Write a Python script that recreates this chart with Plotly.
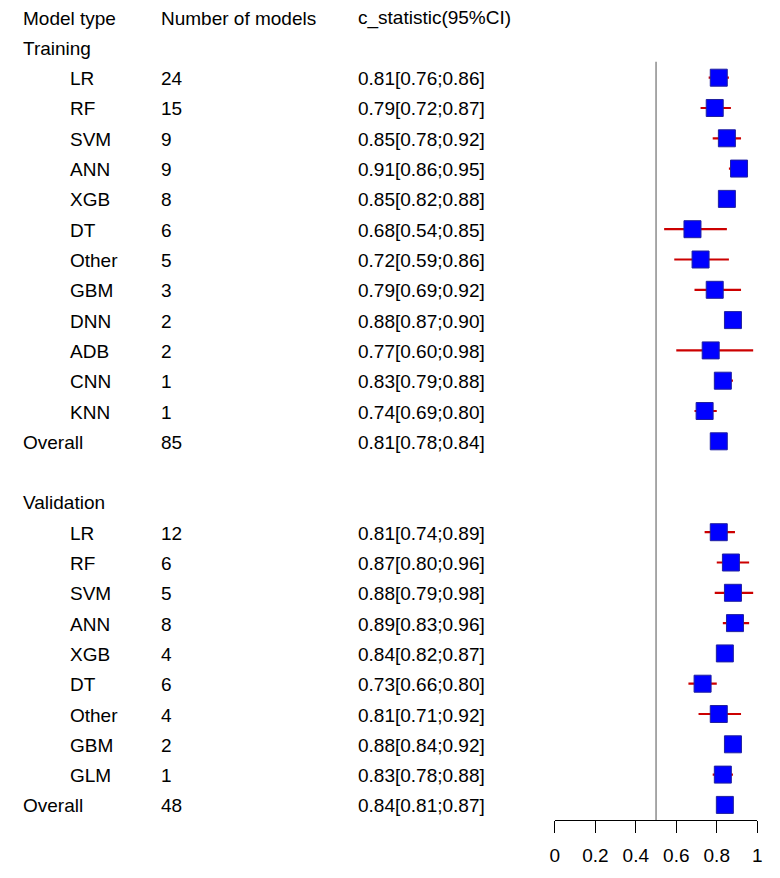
import plotly.graph_objects as go

# ---- data ----
train_models = ['LR', 'RF', 'SVM', 'ANN', 'XGB', 'DT', 'Other', 'GBM',
                'DNN', 'ADB', 'CNN', 'KNN']
train_n      = [24, 15, 9, 9, 8, 6, 5, 3, 2, 2, 1, 1]
train_c      = [0.81, 0.79, 0.85, 0.91, 0.85, 0.68, 0.72, 0.79, 0.88, 0.77, 0.83, 0.74]
train_lo     = [0.76, 0.72, 0.78, 0.86, 0.82, 0.54, 0.59, 0.69, 0.87, 0.60, 0.79, 0.69]
train_hi     = [0.86, 0.87, 0.92, 0.95, 0.88, 0.85, 0.86, 0.92, 0.90, 0.98, 0.88, 0.80]
train_overall = (85, 0.81, 0.78, 0.84)

val_models = ['LR', 'RF', 'SVM', 'ANN', 'XGB', 'DT', 'Other', 'GBM', 'GLM']
val_n      = [12, 6, 5, 8, 4, 6, 4, 2, 1]
val_c      = [0.81, 0.87, 0.88, 0.89, 0.84, 0.73, 0.81, 0.88, 0.83]
val_lo     = [0.74, 0.80, 0.79, 0.83, 0.82, 0.66, 0.71, 0.84, 0.78]
val_hi     = [0.89, 0.96, 0.98, 0.96, 0.87, 0.80, 0.92, 0.92, 0.88]
val_overall = (48, 0.84, 0.81, 0.87)

tick_vals = [0, 0.2, 0.4, 0.6, 0.8, 1]
tick_text = ['0', '0.2', '0.4', '0.6', '0.8', '1']
REF_LINE = 0.5

# ---- build the row table: (label, indent, n, c, lo, hi) ----
rows = [('Training', False, None, None, None, None)]
rows += [(m, True, n, c, l, h) for m, n, c, l, h
         in zip(train_models, train_n, train_c, train_lo, train_hi)]
rows.append(('Overall', False) + train_overall)
rows.append(('', False, None, None, None, None))
rows.append(('Validation', False, None, None, None, None))
rows += [(m, True, n, c, l, h) for m, n, c, l, h
         in zip(val_models, val_n, val_c, val_lo, val_hi)]
rows.append(('Overall', False) + val_overall)

FONT = dict(family='Liberation Sans, Arial', size=19, color='black')
W, H = 780, 878
COL_GROUP, COL_SUB, COL_N, COL_CI = 16, 64, 156, 356

ys, xs, err_p, err_m = [], [], [], []
annots = []


def txt(x_px, y, s):
    annots.append(dict(x=x_px / W, xref='paper', y=y, yref='y', text=s,
                       showarrow=False, xanchor='left', yanchor='middle',
                       yshift=-1, font=FONT))


for lab, col in [('Model type', COL_GROUP), ('Number of models', COL_N),
                 ('c_statistic(95%CI)', COL_CI)]:
    txt(col, 0, lab)

for i, (lab, indent, n, c, lo, hi) in enumerate(rows, start=1):
    if lab:
        txt(COL_SUB if indent else COL_GROUP, i, lab)
    if c is None:
        continue
    txt(COL_N, i, str(n))
    txt(COL_CI, i, f'{c:.2f}[{lo:.2f};{hi:.2f}]')
    ys.append(i)
    xs.append(c)
    err_p.append(hi - c)
    err_m.append(c - lo)

last_row = len(rows)

fig = go.Figure()
fig.add_trace(go.Scatter(
    x=xs, y=ys, mode='markers',
    marker=dict(symbol='square', size=17, color='#0000FF',
                line=dict(color='#2020A0', width=1)),
    error_x=dict(type='data', array=err_p, arrayminus=err_m,
                 color='#CC0000', thickness=2.2, width=0),
    showlegend=False, hoverinfo='skip',
))

# reference line at 0.5
fig.add_shape(type='line', x0=REF_LINE, x1=REF_LINE, y0=1.47, y1=last_row + 0.5,
              xref='x', yref='y', line=dict(color='#8C8C8C', width=1.5),
              layer='below')

fig.update_xaxes(domain=[557 / W, 762 / W], range=[0, 1],
                 tickvals=tick_vals, ticktext=tick_text,
                 ticks='outside', ticklen=12, tickwidth=1.3, tickcolor='black',
                 ticklabelstandoff=6,
                 showline=True, linecolor='black', linewidth=1.3,
                 showgrid=False, zeroline=False, tickfont=FONT)
fig.update_yaxes(range=[last_row + 0.498, -0.564], visible=False,
                 showgrid=False, zeroline=False)
fig.update_layout(
    width=W, height=H, margin=dict(l=0, r=0, t=0, b=58),
    plot_bgcolor='white', paper_bgcolor='white',
    annotations=annots, font=FONT,
)
fig.write_html('out.html', config={'displayModeBar': False},
               post_script="document.body.style.margin='0';")
